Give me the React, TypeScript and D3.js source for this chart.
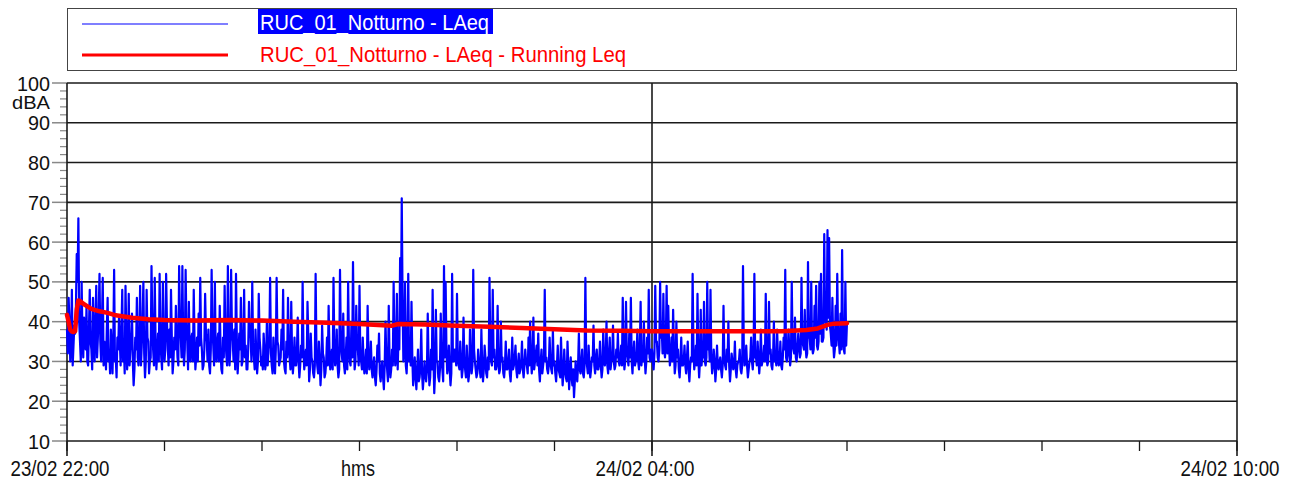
import React from "react";
import * as d3 from "d3";

// ---------- DATA ----------
const SERIES_NAMES = ["RUC_01_Notturno - LAeq", "RUC_01_Notturno - LAeq - Running Leq"];
const Y_UNIT = "dBA";
const X_AXIS_TITLE = "hms";
const Y_TICKS = [10, 20, 30, 40, 50, 60, 70, 80, 90, 100];
const X_TICK_MINUTES = [0, 360, 720];
const X_TICK_LABELS = ["23/02 22:00", "24/02 04:00", "24/02 10:00"];
const X_HOUR_TICKS = [0, 60, 120, 180, 240, 300, 360, 420, 480, 540, 600, 660, 720];

// LAeq, one value per minute from 23/02 22:00
const LAEQ_VALUES = [
  38, 46, 30, 48, 34, 37, 57, 66, 35, 50, 31, 36, 44, 29, 48, 33, 46, 30, 49, 36,
  52, 30, 51, 35, 28, 46, 33, 38, 27, 53, 31, 36, 41, 29, 48, 34, 49, 28, 47, 33,
  42, 24, 36, 46, 29, 49, 34, 50, 26, 48, 35, 30, 54, 33, 51, 28, 37, 52, 31, 50,
  30, 52, 34, 38, 48, 27, 36, 44, 31, 54, 36, 54, 29, 53, 35, 45, 30, 37, 48, 28,
  36, 42, 51, 33, 29, 47, 35, 38, 27, 53, 34, 50, 30, 37, 44, 28, 36, 49, 32, 54,
  29, 53, 35, 38, 52, 27, 37, 46, 30, 48, 34, 28, 45, 36, 50, 31, 38, 27, 47, 33,
  31, 37, 28, 40, 33, 51, 29, 36, 27, 51, 34, 30, 38, 48, 28, 35, 46, 31, 45, 27,
  36, 29, 41, 26, 34, 50, 28, 33, 45, 25, 37, 30, 26, 52, 29, 35, 24, 39, 31, 27,
  36, 44, 28, 33, 51, 29, 38, 26, 53, 32, 42, 27, 36, 50, 30, 39, 55, 28, 44, 33,
  49, 30, 36, 27, 33, 44, 28, 35, 26, 31, 24, 34, 37, 25, 30, 23, 40, 28, 44, 26,
  33, 50, 29, 47, 36, 56, 71, 30, 50, 27, 52, 35, 45, 24, 31, 23, 33, 26, 38, 23,
  30, 25, 42, 24, 33, 48, 22, 43, 30, 25, 42, 28, 54, 50, 27, 34, 24, 52, 30, 33,
  47, 29, 35, 26, 41, 28, 34, 25, 38, 27, 53, 30, 26, 33, 28, 38, 25, 34, 27, 31,
  51, 30, 48, 33, 28, 44, 27, 40, 31, 26, 35, 28, 33, 25, 36, 29, 34, 26, 32, 28,
  35, 26, 33, 29, 36, 40, 27, 41, 30, 34, 37, 25, 33, 29, 48, 31, 27, 36, 28, 38,
  30, 25, 34, 27, 36, 24, 33, 26, 35, 23, 31, 24, 21, 30, 25, 37, 27, 33, 26, 51,
  29, 34, 26, 31, 39, 27, 33, 28, 35, 26, 38, 29, 40, 27, 36, 30, 39, 28, 33, 37,
  29, 34, 46, 28, 45, 31, 37, 46, 27, 35, 30, 38, 28, 45, 32, 40, 27, 36, 48, 30,
  33, 28, 49, 35, 30, 50, 38, 47, 31, 49, 44, 29, 36, 43, 27, 40, 33, 26, 36, 29,
  34, 27, 35, 25, 31, 52, 28, 34, 47, 26, 43, 32, 45, 29, 50, 35, 48, 27, 33, 25,
  34, 28, 31, 26, 44, 29, 33, 40, 25, 32, 28, 35, 26, 30, 33, 27, 54, 29, 34, 26,
  30, 36, 28, 52, 31, 35, 27, 38, 30, 34, 47, 29, 45, 33, 28, 40, 31, 38, 29, 35,
  28, 36, 53, 30, 38, 29, 50, 33, 41, 30, 37, 31, 51, 34, 43, 31, 55, 36, 50, 32,
  44, 49, 33, 50, 52, 35, 62, 40, 63, 61, 37, 46, 31, 44, 52, 35, 42, 58, 33, 50, 40,
];

// LAeq, second reading each minute (at half past the minute)
const LAEQ_HALF_VALUES = [
  32, 40, 35, 29, 39, 44, 50, 40, 30, 37, 41, 33, 30, 38, 35, 28, 36, 40, 31, 42,
  35, 40, 29, 33, 38, 30, 27, 34, 36, 30, 26, 33, 35, 38, 30, 27, 37, 32, 29, 35,
  30, 28, 33, 31, 36, 29, 40, 32, 30, 36, 27, 31, 40, 29, 35, 32, 30, 36, 28, 34,
  33, 40, 29, 31, 36, 30, 33, 37, 29, 40, 31, 35, 33, 38, 28, 32, 36, 30, 35, 31,
  30, 34, 36, 28, 33, 37, 30, 29, 33, 38, 29, 32, 35, 30, 33, 27, 31, 36, 29, 34,
  33, 38, 30, 28, 36, 31, 33, 29, 35, 31, 28, 33, 37, 30, 34, 28, 32, 30, 36, 29,
  28, 33, 30, 29, 35, 32, 27, 30, 33, 35, 29, 31, 33, 30, 27, 31, 34, 28, 32, 30,
  29, 33, 30, 29, 31, 33, 30, 29, 36, 28, 31, 27, 29, 33, 27, 30, 28, 32, 26, 30,
  29, 33, 30, 28, 34, 31, 29, 28, 36, 30, 29, 31, 28, 35, 29, 31, 37, 30, 33, 29,
  31, 28, 30, 29, 27, 32, 30, 28, 29, 26, 28, 30, 27, 28, 26, 29, 31, 25, 30, 28,
  29, 35, 31, 28, 33, 40, 45, 34, 29, 33, 30, 29, 31, 27, 26, 28, 25, 29, 27, 26,
  27, 28, 30, 26, 28, 31, 27, 30, 26, 28, 30, 25, 31, 33, 29, 28, 27, 30, 33, 29,
  31, 28, 30, 28, 30, 26, 29, 27, 30, 29, 33, 28, 27, 30, 26, 29, 28, 31, 26, 28,
  33, 29, 31, 28, 30, 29, 28, 30, 27, 29, 28, 30, 27, 29, 28, 31, 28, 29, 27, 30,
  28, 29, 30, 27, 29, 31, 30, 28, 32, 29, 28, 30, 27, 31, 30, 28, 29, 30, 27, 29,
  27, 29, 28, 26, 29, 27, 28, 25, 29, 27, 26, 28, 25, 27, 29, 28, 30, 27, 29, 31,
  27, 29, 28, 30, 29, 31, 28, 30, 29, 28, 30, 31, 29, 32, 28, 31, 30, 29, 31, 30,
  31, 29, 33, 30, 32, 29, 31, 30, 32, 29, 31, 30, 33, 29, 30, 31, 30, 32, 31, 33,
  30, 32, 35, 31, 33, 36, 32, 33, 35, 32, 34, 31, 30, 33, 29, 31, 28, 30, 29, 30,
  29, 31, 28, 29, 30, 33, 30, 29, 31, 30, 29, 31, 30, 31, 33, 30, 31, 29, 30, 28,
  29, 30, 28, 29, 31, 28, 30, 29, 28, 30, 29, 28, 29, 30, 28, 29, 33, 30, 29, 28,
  31, 30, 32, 31, 29, 31, 30, 29, 31, 30, 31, 30, 32, 29, 31, 30, 29, 31, 30, 29,
  31, 33, 31, 32, 33, 31, 34, 32, 31, 33, 34, 32, 35, 33, 34, 32, 36, 33, 34, 33,
  36, 34, 35, 37, 35, 36, 40, 38, 41, 39, 34, 35, 33, 34, 37, 32, 33, 36, 32, 34,
];

// Running Leq: minutes after 22:00 and values
const LEQ_MINUTES = [0, 1, 2, 3, 4, 5, 6, 7, 8, 10, 15, 20, 25, 30, 40, 50, 60, 80, 100, 120, 140, 160, 180, 200, 204, 220, 240, 260, 280, 300, 320, 340, 360, 400, 440, 455, 462, 468, 472, 480];
const LEQ_VALUES = [41.7, 40, 38, 37.5, 37.4, 37.6, 43, 45.3, 45.2, 44.5, 43.2, 42.6, 42.2, 41.6, 41.0, 40.6, 40.4, 40.3, 40.4, 40.3, 40.0, 39.7, 39.4, 39.0, 39.4, 39.3, 39.0, 38.7, 38.4, 38.1, 37.8, 37.7, 37.6, 37.6, 37.6, 37.9, 38.3, 39.2, 39.5, 39.6];

const FONT = "'Liberation Sans Narrow', 'Liberation Sans', Arial, sans-serif";

export default function App() {
  const W = 1297;
  const H = 481;
  const left = 67, right = 1237, top = 83, bottom = 441;
  const x = d3.scaleLinear().domain([0, 720]).range([left, right]);
  const y = d3.scaleLinear().domain([10, 100]).range([bottom, top]);

  // merge minute readings and half-minute readings in time order
  const bluePoints: [number, number][] = [];
  LAEQ_VALUES.forEach((v, i) => {
    bluePoints.push([i, v]);
    if (i < LAEQ_HALF_VALUES.length) bluePoints.push([i + 0.5, LAEQ_HALF_VALUES[i]]);
  });

  const blueLine = d3.line<[number, number]>().x((d) => x(d[0])).y((d) => y(d[1]))(bluePoints) || "";
  const redLine = d3.line<number>().x((_, i) => x(LEQ_MINUTES[i])).y((d) => y(d))(LEQ_VALUES) || "";

  const minorY = d3.range(10, 100, 2).filter((v) => v % 10 !== 0);
  const yLabelWidth = (s: string) => (s.length === 3 ? 33 : 22);

  return (
    <div style={{ position: "absolute", left: 0, top: 0, width: W, height: H, background: "#fff" }}>
      <svg width={W} height={H} style={{ display: "block" }} fontFamily={FONT}>
        <rect x={0} y={0} width={W} height={H} fill="#fff" />
        {/* Legend */}
        <rect x={67.5} y={8.5} width={1169} height={62} fill="#fff" stroke="#444" strokeWidth={1} />
        <line x1={82} x2={228} y1={24} y2={24} stroke="#0000ff" strokeWidth={1.2} />
        <rect x={258} y={9} width={235} height={25} fill="#0000ff" />
        <text x={260} y={30} fontSize={22} fill="#fff" textLength={229} lengthAdjust="spacingAndGlyphs">
          {SERIES_NAMES[0]}
        </text>
        <line x1={82} x2={228} y1={55} y2={55} stroke="#ff0000" strokeWidth={3} />
        <text x={260} y={62} fontSize={22} fill="#ff0000" textLength={366} lengthAdjust="spacingAndGlyphs">
          {SERIES_NAMES[1]}
        </text>

        {/* Y minor ticks */}
        {minorY.map((v) => (
          <line key={"m" + v} x1={60} x2={left} y1={y(v)} y2={y(v)} stroke="#888" strokeWidth={1.2} />
        ))}
        {/* Y major ticks + gridlines + labels */}
        {Y_TICKS.map((v) => (
          <g key={"y" + v}>
            <line x1={52} x2={left} y1={y(v)} y2={y(v)} stroke="#888" strokeWidth={1.5} />
            <line x1={left} x2={right} y1={y(v)} y2={y(v)} stroke="#1a1a1a" strokeWidth={1.6} />
            <text
              x={50}
              y={y(v) + 7.5}
              fontSize={20}
              textAnchor="end"
              fill="#111"
              textLength={yLabelWidth(String(v))}
              lengthAdjust="spacingAndGlyphs"
            >
              {v}
            </text>
          </g>
        ))}
        <text x={50} y={109} fontSize={18} textAnchor="end" fill="#111" textLength={38} lengthAdjust="spacingAndGlyphs">
          {Y_UNIT}
        </text>

        {/* Vertical lines: left axis, 04:00 grid, right edge */}
        {X_TICK_MINUTES.map((m) => (
          <line key={"v" + m} x1={x(m)} x2={x(m)} y1={top} y2={bottom + 15} stroke="#1a1a1a" strokeWidth={1.6} />
        ))}
        {/* hour ticks */}
        {X_HOUR_TICKS.map((m) => (
          <line key={"h" + m} x1={x(m)} x2={x(m)} y1={bottom} y2={bottom + 10} stroke="#1a1a1a" strokeWidth={1.3} />
        ))}
        {/* X labels */}
        {X_TICK_MINUTES.map((m, i) => (
          <text
            key={"xl" + m}
            x={x(m) - 7}
            y={476}
            fontSize={22}
            textAnchor="middle"
            fill="#111"
            textLength={99}
            lengthAdjust="spacingAndGlyphs"
          >
            {X_TICK_LABELS[i]}
          </text>
        ))}
        <text x={358} y={476} fontSize={22} textAnchor="middle" fill="#111" textLength={34} lengthAdjust="spacingAndGlyphs">
          {X_AXIS_TITLE}
        </text>

        {/* Data */}
        <path d={blueLine} fill="none" stroke="#0000ff" strokeWidth={2.2} strokeLinejoin="round" />
        <path d={redLine} fill="none" stroke="#ff0000" strokeWidth={4.5} strokeLinejoin="round" strokeLinecap="round" />
      </svg>
    </div>
  );
}
